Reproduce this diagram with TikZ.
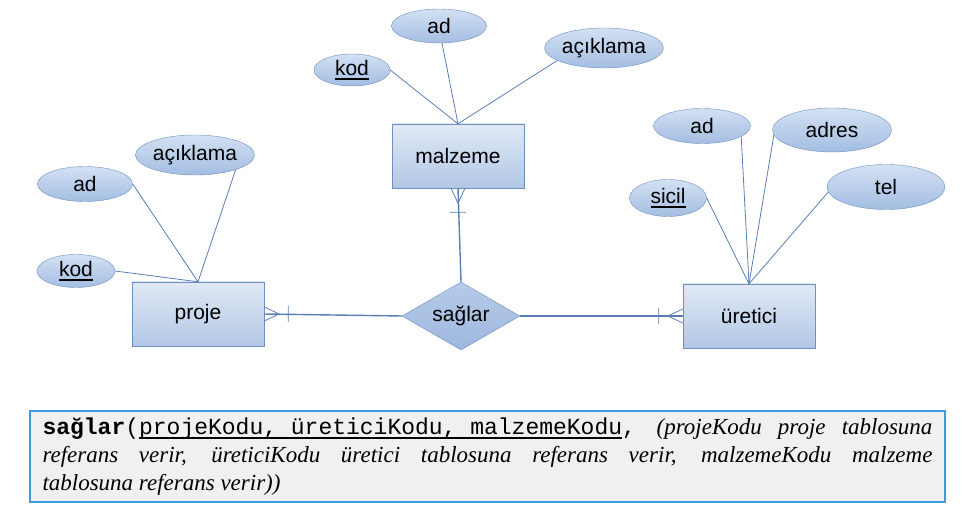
\documentclass[tikz,border=0pt]{standalone}
\usepackage{fontspec}
\setmainfont{Liberation Sans}
\setmonofont{Liberation Mono}
\newfontfamily\notefont{Liberation Serif}
\usetikzlibrary{shapes.geometric}
\definecolor{erline}{HTML}{5A7DB6}
\definecolor{erborder}{HTML}{6F8FC0}
\definecolor{entitytop}{HTML}{E0E9F5}
\definecolor{entitybot}{HTML}{B2C7E5}
\definecolor{attrtop}{HTML}{D3E1F3}
\definecolor{attrbot}{HTML}{A3BDE1}
\definecolor{reltop}{HTML}{B6CBE9}
\definecolor{relbot}{HTML}{9DB7DD}
\definecolor{notebg}{HTML}{F0F0F0}
\definecolor{noteframe}{HTML}{3D9BE0}
\newsavebox\keybox
\newcommand\ulkey[1]{\sbox\keybox{#1}\rlap{\vrule width\wd\keybox height -2.6pt depth 4.4pt}\usebox\keybox}

\begin{document}
\begin{tikzpicture}[x=1pt, y=-1pt,
  font=\fontsize{21}{25}\selectfont,
  entity/.style={draw=erborder, top color=entitytop, bottom color=entitybot,
                 minimum width=132pt, minimum height=64pt, inner sep=0pt},
  attr/.style={ellipse, draw=erborder, top color=attrtop, bottom color=attrbot, inner sep=0pt},
  rel/.style={diamond, aspect=2, draw=erborder, top color=reltop, bottom color=relbot,
              minimum width=118pt, minimum height=68pt, inner sep=0pt},
  attrlink/.style={draw=erline, line width=0.8pt},
  rellink/.style={draw=erline, line width=1.4pt},
  note/.style={draw=noteframe, fill=notebg, line width=1.5pt, text width=890pt, align=justify,
               inner xsep=12.5pt, minimum height=91pt, font=\fontsize{23}{28}\selectfont}]
  \useasboundingbox (0,0) rectangle (962,521);

  \node[entity] (malzeme) at (458,156) {malzeme};
  \node[entity] (proje) at (198,314) {proje};
  \node[entity] (uretici) at (749,316) {üretici};
  \node[rel] (saglar) at (461,316) {sağlar};

  \node[attr, minimum width=95pt, minimum height=34pt] (ad1) at (439,26) {ad};
  \node[attr, minimum width=76pt, minimum height=32pt] (kod1) at (352,70) {\ulkey{kod}};
  \node[attr, minimum width=118pt, minimum height=40pt] (acik1) at (604,48) {açıklama};

  \node[attr, minimum width=95pt, minimum height=35pt] (ad2) at (85,184) {ad};
  \node[attr, minimum width=119pt, minimum height=40pt] (acik2) at (195,155) {açıklama};
  \node[attr, minimum width=78pt, minimum height=33pt] (kod2) at (76,271) {\ulkey{kod}};

  \node[attr, minimum width=97pt, minimum height=35pt] (ad3) at (702,126) {ad};
  \node[attr, minimum width=119pt, minimum height=44pt] (adres) at (832,130) {adres};
  \node[attr, minimum width=77pt, minimum height=37pt] (sicil) at (668,198) {\ulkey{sicil}};
  \node[attr, minimum width=118pt, minimum height=45pt] (tel) at (886,187) {tel};

  \foreach \n in {kod1.east, ad1.-80, acik1.195}
    \draw[attrlink] (malzeme.north) -- (\n);
  \foreach \n in {ad2.east, acik2.-20, kod2.east}
    \draw[attrlink] (proje.north) -- (\n);
  \foreach \n in {ad3.-15, adres.185, sicil.east, tel.185}
    \draw[attrlink] (uretici.north) -- (\n);

  \draw[rellink] (proje.east) -- (saglar.west);
  \draw[rellink] (uretici.west) -- (saglar.east);
  \draw[rellink] (malzeme.south) -- (saglar.north);
  \foreach \a/\r in {proje.east/0, uretici.west/180, malzeme.south/-90}
    \draw[attrlink, shift={(\a)}, rotate=\r] (0,-7) -- (15,0) -- (0,7) (24,-8) -- (24,8);

  \node[note] (tanim) at (487.5,456.5) {{\ttfamily\bfseries sağlar}{\ttfamily(\ulkey{projeKodu, üreticiKodu, malzemeKodu},} {\notefont\itshape (projeKodu proje tablosuna\linebreak
    referans verir, üreticiKodu üretici tablosuna referans verir, malzemeKodu malzeme\linebreak
    tablosuna referans verir))}};
\end{tikzpicture}
\end{document}
